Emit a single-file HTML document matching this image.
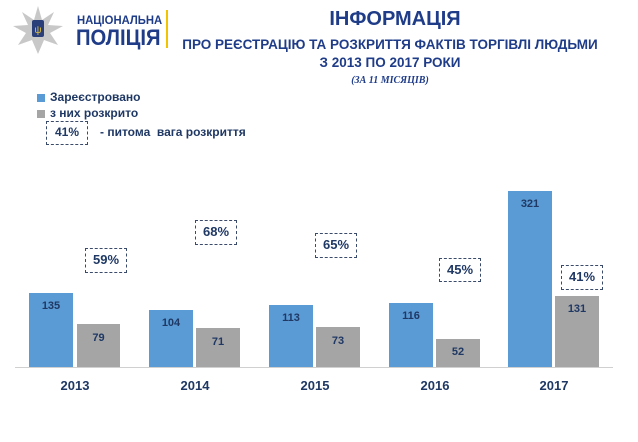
<!DOCTYPE html>
<html><head><meta charset="utf-8"><style>
body{margin:0;background:#fff;width:638px;height:442px;overflow:hidden;position:relative;font-family:"Liberation Sans",sans-serif;color:#1f3864}
.a{position:absolute}
.b{position:absolute;font-weight:bold;font-size:11px;text-align:center;color:#1f3864}
.box{position:absolute;border:1.5px dashed #3a4a6a;box-sizing:border-box;font-weight:bold;font-size:13px;text-align:center;line-height:21px;color:#1f3864}
.yr{position:absolute;font-weight:bold;font-size:13px;width:60px;text-align:center;top:378px}
</style></head><body>
<svg class="a" style="left:12px;top:6px" width="52" height="48" viewBox="0 0 52 48">
<polygon points="26,0 30,14 42,6 36,19 51,20 38,27 46,39 32,34 26,48 20,34 6,39 14,27 1,20 16,19 10,6 22,14" fill="#c8c8c8"/>
<rect x="20" y="14" width="12" height="17" rx="2" fill="#2a3f7a"/>
<text x="26" y="27" font-size="10" text-anchor="middle" fill="#e0c040">ψ</text>
</svg>
<div class="a" style="left:77px;top:13px;font-weight:bold;font-size:12px;color:#1f3c88;transform:scaleX(0.94);transform-origin:left">НАЦІОНАЛЬНА</div>
<div class="a" style="left:76px;top:25px;font-weight:bold;font-size:22px;color:#1f3c88;transform:scaleX(0.92);transform-origin:left">ПОЛІЦІЯ</div>
<div class="a" style="left:166px;top:10px;width:2px;height:38px;background:#f0c400"></div>
<div class="a" style="left:240px;width:310px;top:8px;text-align:center;font-weight:bold;font-size:20px;color:#1f3c88">ІНФОРМАЦІЯ</div>
<div class="a" style="left:170px;width:440px;top:37px;text-align:center;font-weight:bold;font-size:13.5px;color:#1f3c88">ПРО РЕЄСТРАЦІЮ ТА РОЗКРИТТЯ ФАКТІВ ТОРГІВЛІ ЛЮДЬМИ</div>
<div class="a" style="left:240px;width:300px;top:55px;text-align:center;font-weight:bold;font-size:13.5px;color:#1f3c88">З 2013 ПО 2017 РОКИ</div>
<div class="a" style="left:290px;width:200px;top:75px;text-align:center;font-weight:bold;font-style:italic;font-size:10px;font-family:'Liberation Serif',serif;color:#1f3c88">(ЗА 11 МІСЯЦІВ)</div>
<div class="a" style="left:37px;top:94px;width:8px;height:8px;background:#5b9bd5"></div>
<div class="a" style="left:50px;top:90px;font-weight:bold;font-size:12px">Зареєстровано</div>
<div class="a" style="left:37px;top:110px;width:8px;height:8px;background:#a5a5a5"></div>
<div class="a" style="left:50px;top:106px;font-weight:bold;font-size:12px">з них розкрито</div>
<div class="box" style="left:46px;top:121px;width:42px;height:24px;font-size:12px">41%</div>
<div class="a" style="left:100px;top:125px;font-weight:bold;font-size:12px">- питома &nbsp;вага розкриття</div>
<div class="a" style="left:15px;top:367px;width:598px;height:1px;background:#d0d0d0"></div>
<div class="a" style="left:29px;top:293px;width:44px;height:74px;background:#5b9bd5"></div><div class="b" style="left:29px;top:300px;width:44px">135</div>
<div class="a" style="left:77px;top:324px;width:43px;height:43px;background:#a5a5a5"></div><div class="b" style="left:77px;top:332px;width:43px">79</div>
<div class="a" style="left:149px;top:310px;width:44px;height:57px;background:#5b9bd5"></div><div class="b" style="left:149px;top:317px;width:44px">104</div>
<div class="a" style="left:196px;top:328px;width:44px;height:39px;background:#a5a5a5"></div><div class="b" style="left:196px;top:336px;width:44px">71</div>
<div class="a" style="left:269px;top:305px;width:44px;height:62px;background:#5b9bd5"></div><div class="b" style="left:269px;top:312px;width:44px">113</div>
<div class="a" style="left:316px;top:327px;width:44px;height:40px;background:#a5a5a5"></div><div class="b" style="left:316px;top:335px;width:44px">73</div>
<div class="a" style="left:389px;top:303px;width:44px;height:64px;background:#5b9bd5"></div><div class="b" style="left:389px;top:310px;width:44px">116</div>
<div class="a" style="left:436px;top:339px;width:44px;height:28px;background:#a5a5a5"></div><div class="b" style="left:436px;top:346px;width:44px">52</div>
<div class="a" style="left:508px;top:191px;width:44px;height:176px;background:#5b9bd5"></div><div class="b" style="left:508px;top:198px;width:44px">321</div>
<div class="a" style="left:555px;top:296px;width:44px;height:71px;background:#a5a5a5"></div><div class="b" style="left:555px;top:303px;width:44px">131</div>
<div class="box" style="left:85px;top:248px;width:42px;height:25px">59%</div>
<div class="box" style="left:195px;top:220px;width:42px;height:25px">68%</div>
<div class="box" style="left:315px;top:233px;width:42px;height:25px">65%</div>
<div class="box" style="left:439px;top:258px;width:42px;height:24px">45%</div>
<div class="box" style="left:561px;top:265px;width:42px;height:25px">41%</div>
<div class="yr" style="left:45px">2013</div>
<div class="yr" style="left:165px">2014</div>
<div class="yr" style="left:285px">2015</div>
<div class="yr" style="left:405px">2016</div>
<div class="yr" style="left:524px">2017</div>
</body></html>
